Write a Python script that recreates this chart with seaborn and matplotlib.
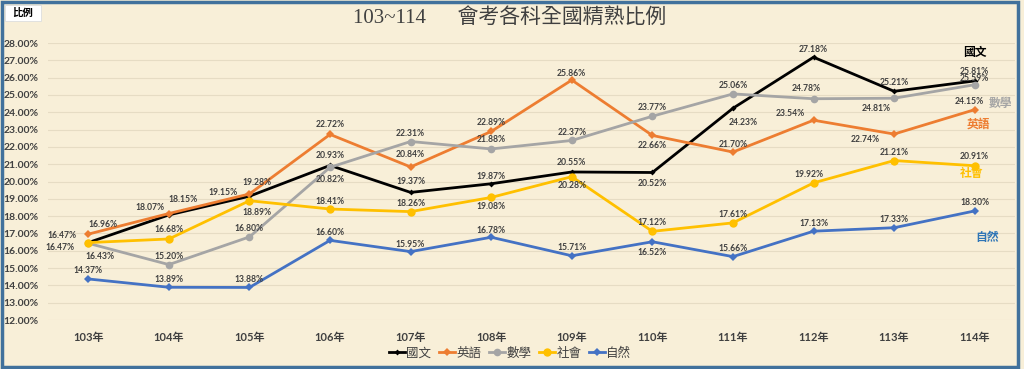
import numpy as np
import pandas as pd
import seaborn as sns
import matplotlib.pyplot as plt
from matplotlib.patches import Rectangle

# ------ data ------
years = ["103年", "104年", "105年", "106年", "107年", "108年",
         "109年", "110年", "111年", "112年", "113年", "114年"]
subjects = ["國文", "英語", "數學", "社會", "自然"]

chinese = [16.47, 18.07, 19.15, 20.93, 19.37, 19.87, 20.55, 20.52, 24.23, 27.18, 25.21, 25.81]
english = [16.96, 18.15, 19.28, 22.72, 20.84, 22.89, 25.86, 22.66, 21.70, 23.54, 22.74, 24.15]
math = [16.43, 15.20, 16.80, 20.82, 22.31, 21.88, 22.37, 23.77, 25.06, 24.78, 24.81, 25.59]
social = [16.47, 16.68, 18.89, 18.41, 18.26, 19.08, 20.28, 17.12, 17.61, 19.92, 21.21, 20.91]
science = [14.37, 13.89, 13.88, 16.60, 15.95, 16.78, 15.71, 16.52, 15.66, 17.13, 17.33, 18.30]

values = [chinese, english, math, social, science]

# ------ style ------
colors = {"國文": "#000000", "英語": "#ED7D31", "數學": "#A5A5A5",
          "社會": "#FFC000", "自然": "#4472C4"}
markers = {"國文": "D", "英語": "D", "數學": "o", "社會": "o", "自然": "D"}
msizes = {"國文": 3, "英語": 4, "數學": 5.5, "社會": 6, "自然": 4.5}

# label offsets in pixels (dx, dy)
offsets = {
    "國文": [(-26, 7), (-19, 7), (-26, 4), (0, 10), (0, 11), (0, 7), (0, 9), (0, -11), (10, -14), (0, 8), (0, 9), (0, 9)],
    "英語": [(15, 10), (14, 14), (8, 11), (0, 10), (0, 12), (0, 9), (0, 7), (0, -10), (0, 8), (-23, 7), (-29, -5), (-5, 8)],
    "數學": [(12, -13), (0, 8), (0, 8), (0, -12), (0, 8), (0, 9), (0, 8), (0, 9), (0, 8), (-7, 10), (-18, -10), (0, 6)],
    "社會": [(-28, -5), (0, 9), (8, -12), (0, 8), (0, 8), (0, -9), (0, -9), (0, 9), (0, 8), (-5, 8), (0, 8), (0, 9)],
    "自然": [(0, 8), (0, 8), (0, 8), (0, 8), (0, 7), (0, 7), (0, 8), (0, -11), (0, 8), (0, 8), (0, 8), (0, 8)],
}

rows = []
for s, v in zip(subjects, values):
    for i, val in enumerate(v):
        rows.append({"科目": s, "idx": i, "比例": val})
df = pd.DataFrame(rows)

bg = "#F8EFD8"
cjk = ["Lato", "Noto Sans CJK TC"]

fig = plt.figure(figsize=(10.24, 3.69), dpi=100, facecolor=bg)
ax = fig.add_axes([48 / 1024, 1 - 320 / 369, (1015 - 48) / 1024, (320 - 43) / 369])
ax.set_facecolor("none")

for s in subjects:
    sns.lineplot(data=df[df["科目"] == s], x="idx", y="比例", ax=ax,
                 color=colors[s], marker=markers[s], markersize=msizes[s],
                 markeredgewidth=0, linewidth=2.0, label=s, sort=False)

for s, v in zip(subjects, values):
    for i, val in enumerate(v):
        dx, dy = offsets[s][i]
        ax.annotate(f"{val:.2f}%", (i, val), xytext=(dx, dy), textcoords="offset pixels",
                    ha="center", va="center", fontsize=6.2, fontweight="bold",
                    color="#404040", family="Lato")

ax.set_xlim(-0.5, 11.5)
ax.set_ylim(12, 28)
ax.set_yticks(np.arange(12, 28.01, 1))
ax.set_yticklabels([f"{t:.2f}%" for t in np.arange(12, 28.01, 1)])
ax.set_xticks(range(len(years)))
ax.set_xticklabels(years)
ax.grid(axis="y", color="#E6DCC4", linewidth=0.8)
ax.grid(axis="x", visible=False)
ax.set_axisbelow(True)
for sp in ax.spines.values():
    sp.set_visible(False)
ax.tick_params(axis="y", length=0, pad=7, labelsize=7.5, labelcolor="#404040")
ax.tick_params(axis="x", length=0, pad=9, labelsize=8, labelcolor="#404040")
for lbl in ax.get_yticklabels():
    lbl.set_family("Lato")
    lbl.set_fontweight("bold")
for lbl in ax.get_xticklabels():
    lbl.set_family(cjk)
    lbl.set_fontweight("bold")
ax.set_xlabel("")
ax.set_ylabel("")

leg = ax.legend(loc="center", bbox_to_anchor=(510 / 1024, 1 - 353 / 369),
                bbox_transform=fig.transFigure, ncol=5, frameon=False,
                handlelength=1.3, handletextpad=0.1, columnspacing=0.6,
                prop={"family": "Noto Sans CJK TC", "size": 9})
for t in leg.get_texts():
    t.set_color("#404040")

# title
fig.text(510 / 1024, 1 - 18 / 369, "103~114      會考各科全國精熟比例",
         ha="center", va="center", fontsize=15, color="#404040",
         family=["Liberation Serif", "Noto Sans CJK TC"])

# series names at right side
side = [("國文", 975, 52), ("數學", 1000, 104), ("英語", 978, 124),
        ("社會", 972, 174), ("自然", 987, 238)]
for s, x, y in side:
    fig.text(x / 1024, 1 - y / 369, s, ha="center", va="center", fontsize=8.5,
             fontweight="bold", color=colors[s] if s != "自然" else "#2E75B6",
             family="Noto Sans CJK TC")

# corner label
fig.patches.append(Rectangle((5 / 1024, 1 - 21 / 369), 36 / 1024, 16 / 369,
                             transform=fig.transFigure, facecolor="white",
                             edgecolor="#DDDDDD", linewidth=0.6))
fig.text(23 / 1024, 1 - 13 / 369, "比例", ha="center", va="center", fontsize=7.5,
         fontweight="bold", color="black", family="Noto Sans CJK TC")

# frame
fig.patches.append(Rectangle((2 / 1024, 2 / 369), 1016 / 1024, 365 / 369,
                             transform=fig.transFigure, facecolor="none",
                             edgecolor="#41719C", linewidth=2.5))

fig.savefig("out.png", dpi=100, facecolor=bg)
